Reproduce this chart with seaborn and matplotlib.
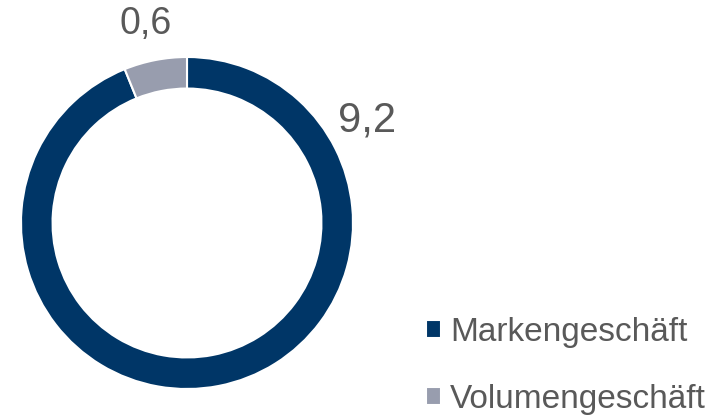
import matplotlib
matplotlib.use('Agg')
import matplotlib.pyplot as plt
import seaborn as sns

# daten
segmente = ['Markengeschäft', 'Volumengeschäft']
werte = [9.2, 0.6]
beschriftung = ['9,2', '0,6']
farben = ['#003667', '#989dae']

sns.set_theme(style='white')
plt.rcParams['font.family'] = ['Liberation Sans', 'DejaVu Sans']
textgrau = '#595959'

fig = plt.figure(figsize=(7.11, 4.18), dpi=100)
W, H = 711, 418
cx, cy, r = 187, 223, 166   # kreis in pixeln
ax = fig.add_axes([(cx - r) / W, (H - cy - r) / H, 2 * r / W, 2 * r / H])

wedges, _ = ax.pie(werte, colors=farben, startangle=90, counterclock=False,
                   radius=1, wedgeprops=dict(width=0.19, edgecolor='white', linewidth=1.5))
ax.set_xlim(-1, 1)
ax.set_ylim(-1, 1)
ax.set_aspect('equal')
ax.axis('off')

# werte-beschriftungen
ax.text(1.087, 0.62, beschriftung[0], ha='center', va='center', fontsize=30, color=textgrau, clip_on=False)
ax.text(-0.25, 1.2, beschriftung[1], ha='center', va='center', fontsize=27, color=textgrau, clip_on=False)

leg = fig.legend(wedges, segmente, loc='lower left', bbox_to_anchor=(426 / W, 3 / H),
                 frameon=False, fontsize=24, labelcolor=textgrau, borderpad=0, borderaxespad=0,
                 handlelength=0.45, handleheight=0.45, handletextpad=0.27, labelspacing=1.09)

plt.savefig('out.png', dpi=100)
